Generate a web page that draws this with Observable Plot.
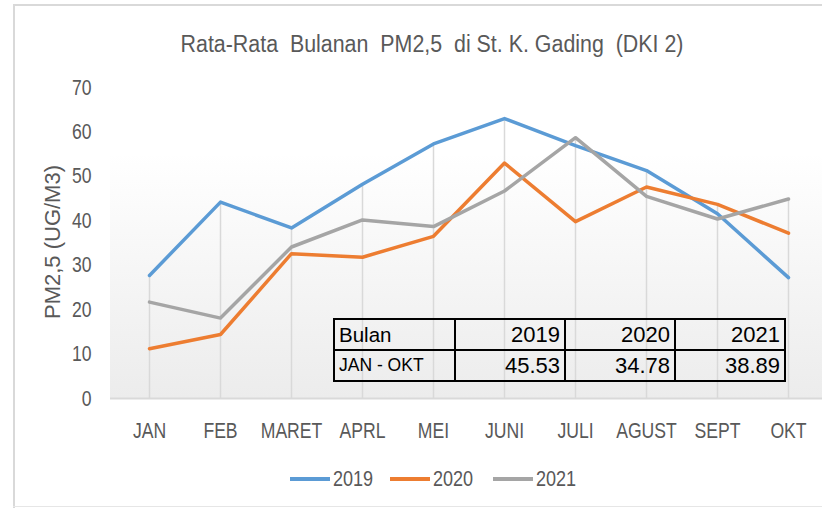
<!DOCTYPE html>
<html>
<head>
<meta charset="utf-8">
<script src="https://cdn.jsdelivr.net/npm/d3@7"></script>
<script src="https://cdn.jsdelivr.net/npm/@observablehq/plot@0.6"></script>
<style>
  body { margin: 0; background: #fff; }
  #wrap { position: relative; width: 822px; height: 510px; overflow: hidden; font-family: "Liberation Sans", sans-serif; color: #595959; }
  #wrap svg { position: absolute; left: 0; top: 0; }
  .abs { position: absolute; white-space: nowrap; }
  #title { left: 432px; top: 29px; transform: translateX(-50%) scaleX(0.93); font-size: 23px; line-height: 30px; }
  #ytitle { left: 53px; top: 242px; transform: translate(-50%, -50%) rotate(-90deg); font-size: 22px; }
  .leg { top: 466px; height: 26px; display: flex; align-items: center; font-size: 22px; }
  .leg .sw { display: inline-block; width: 40px; height: 4px; margin-right: 3px; }
  .leg .tx { display: inline-block; transform: scaleX(0.82); transform-origin: left center; }
  #tbl { left: 333px; top: 318px; border-collapse: collapse; color: #000; }
  #tbl td { border: 2px solid #000; height: 31px; padding: 0 4px; box-sizing: border-box; }
  #tbl td.lab { width: 121px; text-align: left; }
  #tbl td.num { width: 110px; text-align: right; font-size: 22px; }
  #bl { left: 13px; top: 4px; width: 2px; height: 504px; background: #d9d9d9; }
  #bt { left: 13px; top: 4px; width: 809px; height: 2px; background: #d9d9d9; }
  #bb { left: 13px; top: 506px; width: 809px; height: 1px; background: #e6e6e6; }
</style>
</head>
<body>
<div id="wrap"></div>
<script>
const months = ["JAN","FEB","MARET","APRL","MEI","JUNI","JULI","AGUST","SEPT","OKT"];
const years = ["2019","2020","2021"];
const colors = ["#5b9bd5","#ed7d31","#a5a5a5"];
const v2019 = [27.7,44.2,38.4,48.2,57.3,63.0,56.9,51.3,41.6,27.2];
const v2020 = [11.2,14.4,32.6,31.8,36.5,53.0,39.8,47.6,43.7,37.2];
const v2021 = [21.7,18.1,34.1,40.2,38.7,46.7,58.7,45.5,40.4,44.9];
const yTicks = [0,10,20,30,40,50,60,70];
const tableHead = ["Bulan","2019","2020","2021"];
const tableRow = ["JAN - OKT","45.53","34.78","38.89"];
const titleText = "Rata-Rata  Bulanan  PM2,5  di St. K. Gading  (DKI 2)";
const yLabel = "PM2,5 (UG/M3)";

const series = [v2019, v2020, v2021];
const long = [];
years.forEach((yr, k) => months.forEach((m, i) => long.push({month: m, year: yr, value: series[k][i]})));
const drops = months.map((m, i) => ({month: m, top: Math.max(v2019[i], v2020[i], v2021[i])}));

const W = 822, H = 510;
const bg = (index, scales, values, dims) => {
  const g = d3.create("svg:g");
  const defs = g.append("defs");
  const lg = defs.append("linearGradient").attr("id","pg").attr("x1",0).attr("y1",0).attr("x2",0).attr("y2",1);
  lg.append("stop").attr("offset","0%").attr("stop-color","#ffffff");
  lg.append("stop").attr("offset","100%").attr("stop-color","#ececec");
  g.append("rect")
    .attr("x", dims.marginLeft)
    .attr("y", scales.y(55))
    .attr("width", dims.width - dims.marginLeft)
    .attr("height", scales.y(0) - scales.y(55))
    .attr("fill","url(#pg)");
  return g.node();
};

const chart = Plot.plot({
  width: W, height: H,
  marginLeft: 110, marginRight: 0, marginTop: 87, marginBottom: 112,
  style: {fontFamily: '"Liberation Sans", sans-serif', background: "transparent", overflow: "visible"},
  x: {type: "point", domain: months, range: [146, 790], padding: 0},
  y: {domain: [0, 70]},
  color: {domain: years, range: colors},
  marks: [
    bg,
    Plot.ruleX(drops, {x: "month", y1: 0, y2: "top", stroke: "#d9d9d9", strokeWidth: 1.5}),
    Plot.ruleY([0], {stroke: "#d9d9d9", strokeWidth: 2}),
    Plot.axisY({ticks: yTicks, tickSize: 0, tickPadding: 19, fontSize: 22, color: "#595959", label: null}),
    Plot.axisX({tickSize: 0, tickPadding: 24, fontSize: 22, color: "#595959", label: null}),
    Plot.line(long, {x: "month", y: "value", z: "year", stroke: "year", strokeWidth: 3.5, strokeLinejoin: "round", strokeLinecap: "round"})
  ]
});

// narrow the axis tick labels horizontally (the source font is a condensed one)
d3.select(chart).selectAll("text").each(function() {
  const t = this.getAttribute("transform");
  const x = +(this.getAttribute("x") || 0);
  if (t) this.setAttribute("transform", t + " scale(0.8,1)");
  else this.setAttribute("transform", `translate(${x},0) scale(0.8,1) translate(${-x},0)`);
});

const wrap = document.getElementById("wrap");
wrap.appendChild(chart);

function addDiv(id, html, cls) { const d = document.createElement("div"); if (id) d.id = id; d.className = "abs" + (cls ? " " + cls : ""); d.innerHTML = html; wrap.appendChild(d); return d; }
addDiv("bl",""); addDiv("bt",""); addDiv("bb","");
addDiv("title", titleText.replace(/  /g, " &nbsp;"));
addDiv("ytitle", yLabel);
const legLeft = [290, 390, 493];
years.forEach((y, k) => {
  const d = addDiv(null, `<span class="sw" style="background:${colors[k]}"></span><span class="tx">${y}</span>`, "leg");
  d.style.left = legLeft[k] + "px";
});

const t = document.createElement("table"); t.id = "tbl"; t.className = "abs";
t.innerHTML = `<tr>${tableHead.map((c, i) => `<td class="${i ? "num" : "lab"}" style="${i ? "" : "font-size:20.5px"}">${c}</td>`).join("")}</tr>` +
  `<tr>${tableRow.map((c, i) => `<td class="${i ? "num" : "lab"}" style="${i ? "" : "font-size:17.5px"}">${c}</td>`).join("")}</tr>`;
wrap.appendChild(t);
</script>
</body>
</html>
